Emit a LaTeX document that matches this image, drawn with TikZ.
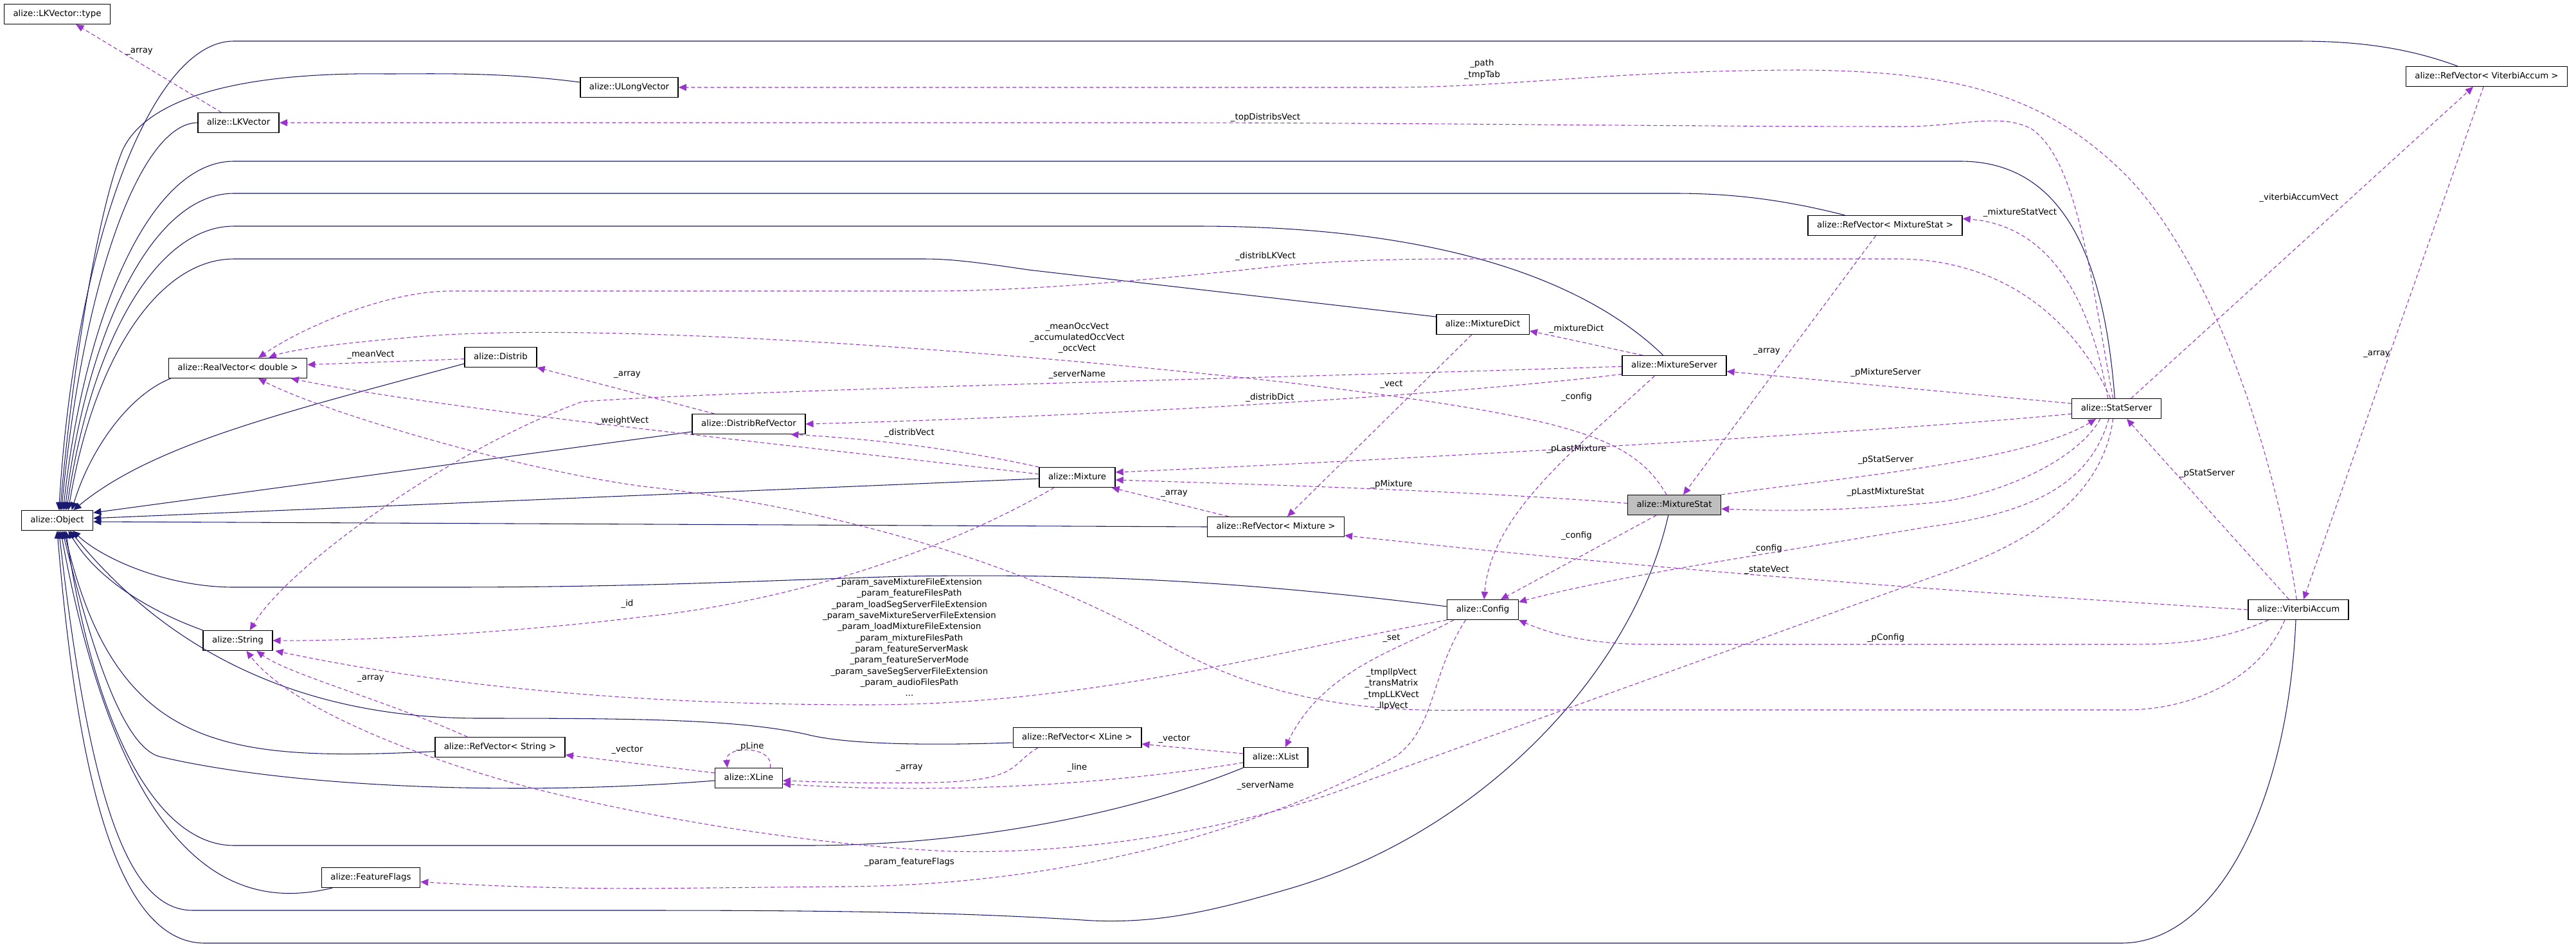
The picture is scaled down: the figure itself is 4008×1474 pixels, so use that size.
\documentclass[tikz,border=0pt]{standalone}
\usepackage{fontspec}
\setmainfont{DejaVu Sans}
\usetikzlibrary{arrows.meta}
\definecolor{inhc}{HTML}{191970}
\definecolor{usec}{HTML}{9A32CD}
\definecolor{hilite}{HTML}{BFBFBF}
\begin{document}
\begin{tikzpicture}[x=0.75pt,y=-0.75pt,
  font=\fontsize{10}{12}\selectfont,
  cls/.style={draw=black, line width=1.1pt, fill=white, inner xsep=10.5pt, inner ysep=0pt,
    minimum height=23pt, text height=7.6pt, text depth=2.2pt},
  inh/.style={draw=inhc, line width=0.8pt, -{Triangle[length=9pt,width=8pt]}},
  use/.style={draw=usec, line width=0.8pt, dash pattern=on 4.5pt off 3pt, -{Triangle[length=9pt,width=8pt]}},
  lbl/.style={font=\fontsize{10}{13}\selectfont, align=center, inner sep=0pt}]
\fill[white] (0,0) rectangle (4008,1474);
\useasboundingbox (0,0) rectangle (4008,1474);

% ---------------- nodes
\node[cls] (lkvtype) at (89,22) {alize::LKVector::type};
\node[cls] (ulong) at (979,136) {alize::ULongVector};
\node[cls] (lkv) at (371,191) {alize::LKVector};
\node[cls] (realv) at (370,573) {alize::RealVector< double >};
\node[cls] (distrib) at (779,556) {alize::Distrib};
\node[cls] (object) at (89,810) {alize::Object};
\node[cls] (string) at (370,997) {alize::String};
\node[cls] (refstring) at (778,1163) {alize::RefVector< String >};
\node[cls] (featflags) at (577,1366) {alize::FeatureFlags};
\node[cls] (distribref) at (1165,660) {alize::DistribRefVector};
\node[cls] (mixture) at (1676,743) {alize::Mixture};
\node[cls] (refmixture) at (1985,820) {alize::RefVector< Mixture >};
\node[cls] (refxline) at (1676,1148) {alize::RefVector< XLine >};
\node[cls] (xline) at (1165,1211) {alize::XLine};
\node[cls] (xlist) at (1985,1179) {alize::XList};
\node[cls] (refmixstat) at (2933,351) {alize::RefVector< MixtureStat >};
\node[cls] (mixdict) at (2307,505) {alize::MixtureDict};
\node[cls] (mixserver) at (2605,569) {alize::MixtureServer};
\node[cls, fill=hilite] (mixstat) at (2605,786) {alize::MixtureStat};
\node[cls] (config) at (2307,949) {alize::Config};
\node[cls] (refviterbi) at (3869,119) {alize::RefVector< ViterbiAccum >};
\node[cls] (statserver) at (3293,636) {alize::StatServer};
\node[cls] (viterbi) at (3576,949) {alize::ViterbiAccum};

% ---------------- inheritance (to Object)
\draw[inh] ([xshift=-34pt]refviterbi.north) .. controls (3740,72) and (3660,64) .. (3574,64) -- (364,64) .. controls (230,64) and (115,400) .. ([xshift=2pt]object.north);
\draw[inh] ([yshift=6pt]ulong.west) .. controls (780,112) and (680,115) .. (600,115) .. controls (380,112) and (230,150) .. (191,233) .. controls (150,330) and (110,600) .. ([xshift=3.5pt]object.north);
\draw[inh] (lkv.west) .. controls (220,192) and (130,430) .. ([xshift=5pt]object.north);
\draw[inh] ([xshift=-2pt]statserver.north) .. controls (3275,420) and (3220,251) .. (3050,251) -- (364,251) .. controls (230,251) and (130,500) .. ([xshift=7pt]object.north);
\draw[inh] ([xshift=-47pt]refmixstat.north) .. controls (2780,312) and (2700,301) .. (2606,301) -- (364,301) .. controls (235,301) and (135,520) .. ([xshift=9pt]object.north);
\draw[inh] ([xshift=-13pt]mixserver.north) .. controls (2450,420) and (2200,352) .. (1861,352) -- (364,352) .. controls (240,352) and (140,540) .. ([xshift=11pt]object.north);
\draw[inh] ([yshift=9pt]mixdict.west) -- (1600,420) .. controls (1500,405) and (1470,403) .. (1434,403) -- (364,403) .. controls (245,403) and (145,560) .. ([xshift=13pt]object.north);
\draw[inh] ([xshift=3pt]realv.south west) .. controls (200,615) and (140,700) .. ([xshift=17pt]object.north);
\draw[inh] ([yshift=-7.5pt]distrib.west) .. controls (450,640) and (240,690) .. ([xshift=19pt]object.north);
\draw[inh] ([yshift=-9pt]distribref.west) -- ([yshift=9pt]object.east);
\draw[inh] ([yshift=-1.5pt]mixture.west) -- ([yshift=2.5pt]object.east);
\draw[inh] (refmixture.west) -- ([yshift=-1.5pt]object.east);
\draw[inh] ([yshift=3.75pt]config.west) .. controls (1900,900) and (1650,893) .. (1408,897) .. controls (1200,903) and (1000,914) .. (700,914) -- (364,914) .. controls (260,914) and (160,870) .. ([xshift=18pt]object.south);
\draw[inh] (string.north west) .. controls (230,950) and (150,900) .. ([xshift=13pt]object.south);
\draw[inh] ([yshift=-5pt]refstring.west) .. controls (350,1185) and (180,1170) .. ([xshift=8pt]object.south);
\draw[inh] ([yshift=-3pt]xline.west) .. controls (800,1240) and (450,1225) .. (250,1178) .. controls (190,1165) and (140,1000) .. ([xshift=6pt]object.south);
\draw[inh] ([yshift=-6pt]refxline.west) .. controls (1400,1162) and (1300,1155) .. (1255,1143) .. controls (1150,1120) and (1000,1118) .. (746,1118) .. controls (450,1118) and (250,1000) .. ([xshift=15pt]object.south);
\draw[inh] (xlist.south west) .. controls (1750,1270) and (1500,1316) .. (1255,1316) -- (364,1316) .. controls (250,1316) and (150,1150) .. ([xshift=10pt]object.south);
\draw[inh] ([xshift=13pt]featflags.south west) .. controls (400,1410) and (200,1400) .. ([xshift=4pt]object.south);
\draw[inh] ([xshift=-7pt]mixstat.south) .. controls (2540,1050) and (2300,1300) .. (2000,1385) .. controls (1880,1420) and (1800,1437) .. (1700,1433) .. controls (1500,1420) and (1300,1417) .. (1000,1417) -- (300,1417) .. controls (200,1417) and (140,1250) .. ([xshift=2pt]object.south);
\draw[inh] ([xshift=-3pt]viterbi.south) .. controls (3560,1250) and (3450,1468) .. (3300,1468) -- (319,1468) .. controls (180,1468) and (120,1200) .. (object.south);

% ---------------- usage (dashed)
\draw[use] ([xshift=-20pt]lkv.north) -- ([xshift=22pt]lkvtype.south);
\draw[use] ([xshift=-2pt]viterbi.north) .. controls (3530,650) and (3420,380) .. (3300,265) .. controls (3180,150) and (3050,110) .. (2797,109) .. controls (2500,110) and (2350,136) .. (2160,136) -- (ulong.east);
\draw[use] ([xshift=-4pt]statserver.north) .. controls (3255,450) and (3235,250) .. (3160,200) .. controls (3110,175) and (3050,197) .. (2960,197) .. controls (2600,197) and (2200,191) .. (1800,191) -- (lkv.east);
\draw[use] ([xshift=-7pt]statserver.north) .. controls (3230,500) and (3120,405) .. (2957,403) -- (2255,403) .. controls (2150,403) and (2050,408) .. (2000,413) .. controls (1800,435) and (1600,453) .. (1446,453) -- (702,453) .. controls (600,453) and (470,510) .. ([xshift=24pt]realv.north);
\draw[use] ([xshift=-10pt]statserver.north) .. controls (3250,450) and (3180,350) .. ([yshift=8pt]refmixstat.east);
\draw[use] ([xshift=17pt]statserver.north) -- ([xshift=-15.75pt]refviterbi.south);
\draw[use] ([xshift=-3.75pt]refviterbi.south) -- ([xshift=6pt]viterbi.north);
\draw[use] ([xshift=-11pt]viterbi.north) -- ([xshift=12pt]statserver.south);
\draw[use] ([yshift=6pt]statserver.west) -- ([yshift=-6.75pt]mixserver.east);
\draw[use] ([yshift=-6pt]statserver.west) .. controls (3000,667) and (2200,715) .. ([yshift=6pt]mixture.east);
\draw[use] (mixstat.north east) .. controls (2850,745) and (3150,720) .. ([xshift=-24pt]statserver.south);
\draw[use] ([xshift=-19pt]statserver.south) .. controls (3230,720) and (3100,775) .. (3000,783) .. controls (2900,792) and (2800,797) .. ([yshift=-4.5pt]mixstat.east);
\draw[use] ([xshift=-9pt]statserver.south) .. controls (3250,760) and (3150,800) .. (3000,820) .. controls (2700,870) and (2500,900) .. ([yshift=9pt]config.east);
\draw[use] ([xshift=-4pt]statserver.south) .. controls (3270,780) and (3150,850) .. (3006,898) -- (2100,1225) .. controls (1900,1300) and (1650,1330) .. (1478,1325) .. controls (1250,1315) and (1000,1270) .. (829,1227) .. controls (650,1180) and (450,1100) .. ([xshift=10pt]string.south);
\draw[use] (viterbi.west) .. controls (3200,930) and (2700,900) .. ([yshift=2pt]refmixture.south east);
\draw[use] ([xshift=-35pt]viterbi.south) .. controls (3450,1000) and (3380,1003) .. (3306,1003) -- (2574,1003) .. controls (2480,1003) and (2420,990) .. (config.south east);
\draw[use] ([xshift=-16pt]viterbi.south) .. controls (3520,1050) and (3420,1105) .. (3306,1105) -- (2287,1105) .. controls (2100,1110) and (1950,1080) .. (1810,1000) .. controls (1600,880) and (1300,790) .. (1000,757) .. controls (800,730) and (500,640) .. ([xshift=24pt]realv.south);
\draw[use] (config.south west) .. controls (2000,1010) and (1700,1097) .. (1350,1097) .. controls (1000,1097) and (700,1070) .. ([xshift=3pt]string.south east);
\draw[use] ([xshift=-34pt]config.south) .. controls (2180,1010) and (2060,1040) .. ([xshift=11pt]xlist.north);
\draw[use] ([xshift=-20pt]config.south) .. controls (2225,1050) and (2235,1130) .. (2172,1177) .. controls (2000,1270) and (1700,1380) .. (1300,1380) -- (1000,1383) .. controls (850,1383) and (750,1378) .. ([yshift=-5pt]featflags.east);
\draw[use] ([xshift=-23pt]mixserver.south) .. controls (2450,700) and (2320,800) .. ([xshift=1.5pt]config.north);
\draw[use] ([xshift=-21pt]mixstat.south) -- ([xshift=21pt]config.north);
\draw[use] ([xshift=-9pt]mixstat.north) .. controls (2540,680) and (2450,650) .. (2000,595) .. controls (1500,540) and (900,500) .. (640,525) .. controls (520,535) and (450,545) .. ([xshift=36pt]realv.north);
\draw[use] ([yshift=2pt]mixstat.west) .. controls (2300,765) and (2000,755) .. ([yshift=-3pt]mixture.east);
\draw[use] ([xshift=-11pt]refmixstat.south) -- ([xshift=10.5pt]mixstat.north);
\draw[use] ([xshift=-37pt]mixserver.north) -- ([yshift=-7.5pt]mixdict.east);
\draw[use] ([yshift=-1pt]mixserver.west) .. controls (2000,588) and (1200,605) .. (906,625) .. controls (700,700) and (450,880) .. ([xshift=14pt]string.north);
\draw[use] ([yshift=-10pt]mixserver.west) .. controls (2300,610) and (1800,645) .. (distribref.east);
\draw[use] ([xshift=-13pt]mixdict.south) -- ([xshift=13.5pt]refmixture.north);
\draw[use] ([xshift=-55pt]refmixture.north) -- ([xshift=-4.5pt]mixture.south east);
\draw[use] (mixture.north west) .. controls (1450,690) and (1300,680) .. ([xshift=49pt]distribref.south);
\draw[use] ([yshift=3.75pt]mixture.west) .. controls (1300,700) and (700,640) .. ([xshift=62pt]realv.south);
\draw[use] ([xshift=-40pt]distribref.north) -- (distrib.south east);
\draw[use] ([yshift=-2pt]distrib.west) -- ([yshift=4pt]realv.east);
\draw[use] ([xshift=-27pt]mixture.south) .. controls (1450,870) and (1200,940) .. (1000,960) .. controls (800,985) and (550,998) .. (string.east);
\draw[use] ([xshift=-38pt]refstring.north) .. controls (600,1090) and (450,1050) .. ([xshift=22pt]string.south);
\draw[use] ([yshift=6pt]xline.west) -- ([yshift=-9pt]refstring.east);
\draw[use] ([xshift=25pt]xline.north) .. controls (1205,1160) and (1128,1160) .. ([xshift=-25pt]xline.north);
\draw[use] ([xshift=-46pt]refxline.south) .. controls (1570,1190) and (1590,1215) .. (1450,1218) .. controls (1350,1220) and (1280,1217) .. ([yshift=-3pt]xline.east);
\draw[use] ([yshift=4.5pt]xlist.west) -- ([yshift=-7.5pt]refxline.east);
\draw[use] ([yshift=-6pt]xlist.west) .. controls (1700,1225) and (1450,1235) .. ([yshift=-7pt]xline.east);

% ---------------- labels
\node[lbl] (l1) at (217,80) {\_array};
\node[lbl] (l2) at (2306,108) {\_path\\\_tmpTab};
\node[lbl] (l3) at (1969,183) {\_topDistribsVect};
\node[lbl] (l4) at (1969,399) {\_distribLKVect};
\node[lbl] (l5) at (3143,331) {\_mixtureStatVect};
\node[lbl] (l6) at (3577,308) {\_viterbiAccumVect};
\node[lbl] (l7) at (3698,551) {\_array};
\node[lbl] (l8) at (3434,737) {\_pStatServer};
\node[lbl] (l9) at (2934,580) {\_pMixtureServer};
\node[lbl] (l10) at (2453,699) {\_pLastMixture};
\node[lbl] (l11) at (2934,716) {\_pStatServer};
\node[lbl] (l12) at (2934,766) {\_pLastMixtureStat};
\node[lbl] (l13) at (2749,854) {\_config};
\node[lbl] (l14) at (1969,1223) {\_serverName};
\node[lbl] (l15) at (2749,887) {\_stateVect};
\node[lbl] (l16) at (2934,993) {\_pConfig};
\node[lbl] (l17) at (2165,1073) {\_tmpllpVect\\\_transMatrix\\\_tmpLLKVect\\\_llpVect};
\node[lbl] (l18) at (1415,992) {\_param\_saveMixtureFileExtension\\\_param\_featureFilesPath\\\_param\_loadSegServerFileExtension\\\_param\_saveMixtureServerFileExtension\\\_param\_loadMixtureFileExtension\\\_param\_mixtureFilesPath\\\_param\_featureServerMask\\\_param\_featureServerMode\\\_param\_saveSegServerFileExtension\\\_param\_audioFilesPath\\...};
\node[lbl] (l19) at (2165,993) {\_set};
\node[lbl] (l20) at (1415,1342) {\_param\_featureFlags};
\node[lbl] (l21) at (2453,618) {\_config};
\node[lbl] (l22) at (2453,834) {\_config};
\node[lbl] (l23) at (1676,526) {\_meanOccVect\\\_accumulatedOccVect\\\_occVect};
\node[lbl] (l24) at (2165,754) {\_pMixture};
\node[lbl] (l25) at (2749,547) {\_array};
\node[lbl] (l26) at (2453,512) {\_mixtureDict};
\node[lbl] (l27) at (1676,583) {\_serverName};
\node[lbl] (l28) at (1976,619) {\_distribDict};
\node[lbl] (l29) at (2165,598) {\_vect};
\node[lbl] (l30) at (1827,768) {\_array};
\node[lbl] (l31) at (1415,674) {\_distribVect};
\node[lbl] (l32) at (969,655) {\_weightVect};
\node[lbl] (l33) at (976,583) {\_array};
\node[lbl] (l34) at (577,552) {\_meanVect};
\node[lbl] (l35) at (976,940) {\_id};
\node[lbl] (l36) at (577,1056) {\_array};
\node[lbl] (l37) at (976,1167) {\_vector};
\node[lbl] (l38) at (1167,1162) {\_pLine};
\node[lbl] (l39) at (1415,1195) {\_array};
\node[lbl] (l40) at (1827,1150) {\_vector};
\node[lbl] (l41) at (1676,1195) {\_line};
\end{tikzpicture}
\end{document}
